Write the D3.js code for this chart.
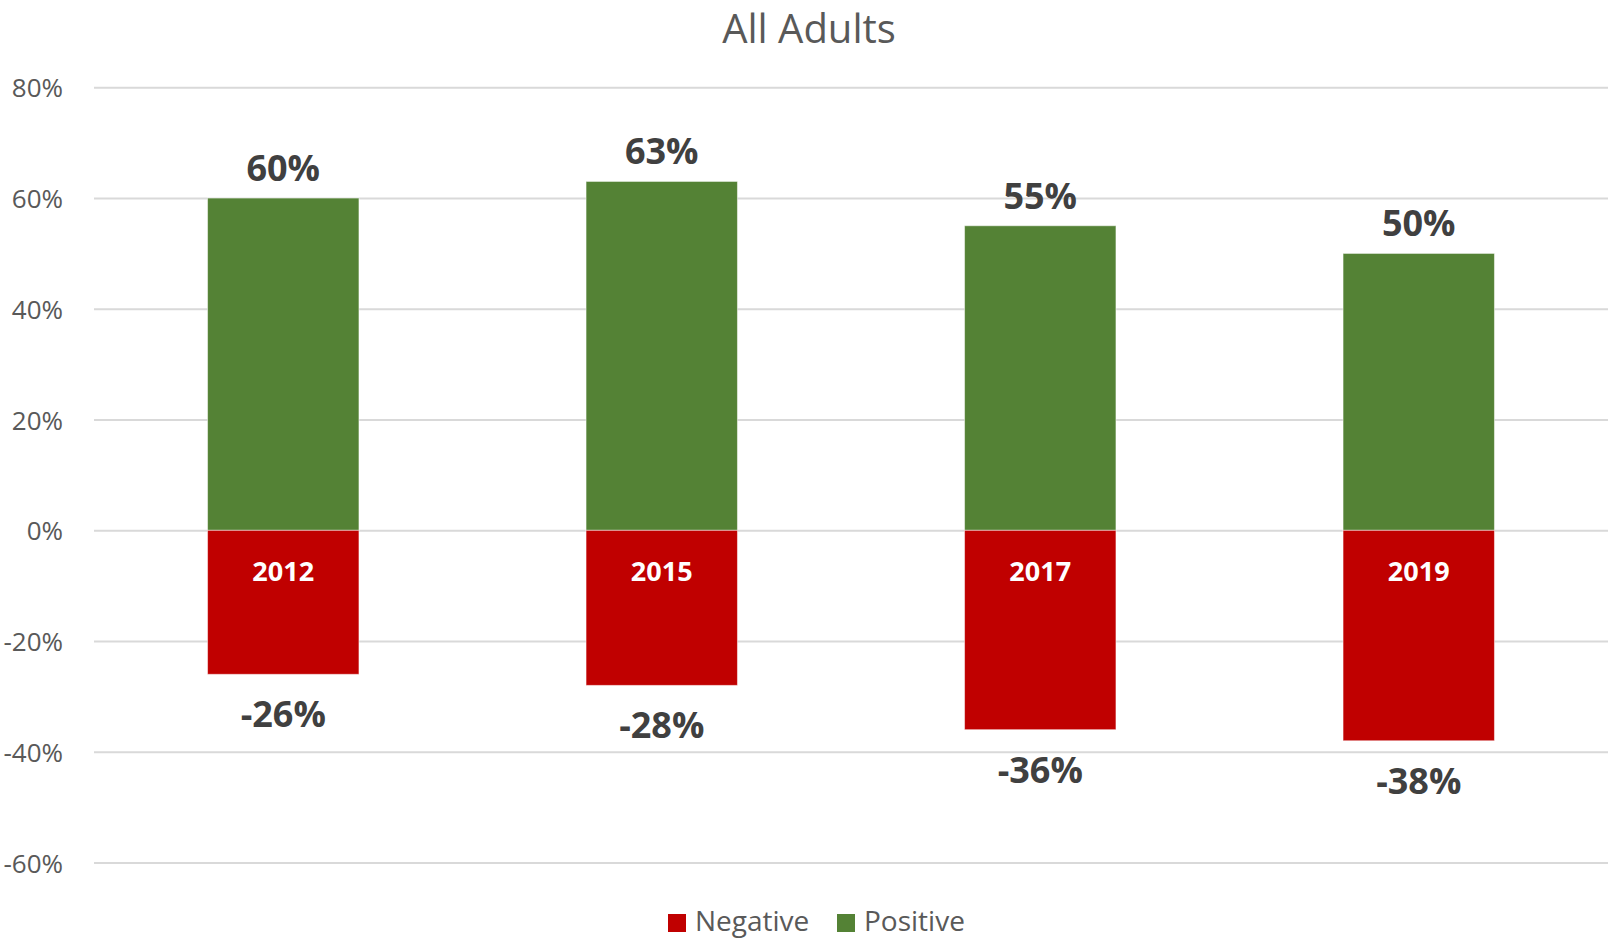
<!DOCTYPE html>
<html>
<head>
<meta charset="utf-8">
<script src="https://cdn.jsdelivr.net/npm/d3@7"></script>
<style>
  body { margin: 0; background: #fff; }
  text { font-family: "Open Sans", "Noto Sans", sans-serif; }
</style>
</head>
<body>
<script>
'use strict';

// chart data
const years = ["2012", "2015", "2017", "2019"];
const positive = [0.60, 0.63, 0.55, 0.50];
const negative = [-0.26, -0.28, -0.36, -0.38];
const yTicks = [-0.6, -0.4, -0.2, 0, 0.2, 0.4, 0.6, 0.8];
const seriesNames = ["Negative", "Positive"];

const width = 1608, height = 940;
const green = "#548235", red = "#c00000";

// percent format with a plain hyphen for negatives
const locale = d3.formatLocale({ decimal: ".", thousands: ",", grouping: [3], currency: ["", ""], minus: "-" });
const fmt = locale.format(".0%");

const svg = d3.select('body')
  .append('svg')
  .attr('width', width)
  .attr('height', height);

// scales
const x = d3.scaleBand()
  .domain(years)
  .range([94, 1608])
  .paddingInner(0.6)
  .paddingOuter(0.3);

const y = d3.scaleLinear()
  .domain([-0.6, 0.8])
  .range([862.6, 87.3]);

// gridlines + tick labels via axis
const yAxis = d3.axisLeft(y)
  .tickValues(yTicks)
  .tickSize(-(1608 - 94))
  .tickPadding(31)
  .tickFormat(fmt);

const gAxis = svg.append('g')
  .attr('transform', 'translate(94, 0)')
  .call(yAxis);
gAxis.select('.domain').remove();
gAxis.selectAll('.tick line')
  .attr('stroke', '#d9d9d9')
  .attr('stroke-width', 2);
gAxis.selectAll('.tick text')
  .attr('fill', '#595959')
  .attr('dy', '0.37em')
  .style('font-size', '26px');

// title
svg.append('text')
  .attr('x', 809)
  .attr('y', 43)
  .attr('text-anchor', 'middle')
  .attr('fill', '#595959')
  .style('font-size', '40px')
  .text('All Adults');

const rows = years.map((yr, i) => ({ year: yr, pos: positive[i], neg: negative[i] }));

// positive bars
svg.selectAll('.pos')
  .data(rows)
  .enter()
  .append('rect')
    .attr('class', 'pos')
    .attr('x', d => x(d.year))
    .attr('width', x.bandwidth())
    .attr('y', d => y(d.pos))
    .attr('height', d => y(0) - y(d.pos))
    .attr('fill', green)
    .attr('stroke', '#fff')
    .attr('stroke-opacity', 0.5);

// negative bars
svg.selectAll('.neg')
  .data(rows)
  .enter()
  .append('rect')
    .attr('class', 'neg')
    .attr('x', d => x(d.year))
    .attr('width', x.bandwidth())
    .attr('y', y(0))
    .attr('height', d => y(d.neg) - y(0))
    .attr('fill', red)
    .attr('stroke', '#fff')
    .attr('stroke-opacity', 0.5);

// value labels
svg.selectAll('.pos-label')
  .data(rows)
  .enter()
  .append('text')
    .attr('x', d => x(d.year) + x.bandwidth() / 2)
    .attr('y', d => y(d.pos) - 17)
    .attr('text-anchor', 'middle')
    .attr('fill', '#404040')
    .style('font-size', '36px')
    .style('font-weight', 'bold')
    .text(d => fmt(d.pos));

svg.selectAll('.neg-label')
  .data(rows)
  .enter()
  .append('text')
    .attr('x', d => x(d.year) + x.bandwidth() / 2)
    .attr('y', d => y(d.neg) + 53)
    .attr('text-anchor', 'middle')
    .attr('fill', '#404040')
    .style('font-size', '36px')
    .style('font-weight', 'bold')
    .text(d => fmt(d.neg));

// year labels inside the red bars
svg.selectAll('.year-label')
  .data(rows)
  .enter()
  .append('text')
    .attr('x', d => x(d.year) + x.bandwidth() / 2)
    .attr('y', y(0) + 51)
    .attr('text-anchor', 'middle')
    .attr('fill', '#fff')
    .style('font-size', '27px')
    .style('font-weight', 'bold')
    .text(d => d.year);

// legend
const legendColors = [red, green];
const legendX = [668, 837];
const legend = svg.selectAll('.legend')
  .data(seriesNames)
  .enter()
  .append('g')
    .attr('transform', (d, i) => `translate(${legendX[i]}, 914)`);
legend.append('rect')
  .attr('width', 18)
  .attr('height', 18)
  .attr('fill', (d, i) => legendColors[i]);
legend.append('text')
  .attr('x', 27)
  .attr('y', 17)
  .attr('fill', '#595959')
  .style('font-size', '28px')
  .text(d => d);
</script>
</body>
</html>
